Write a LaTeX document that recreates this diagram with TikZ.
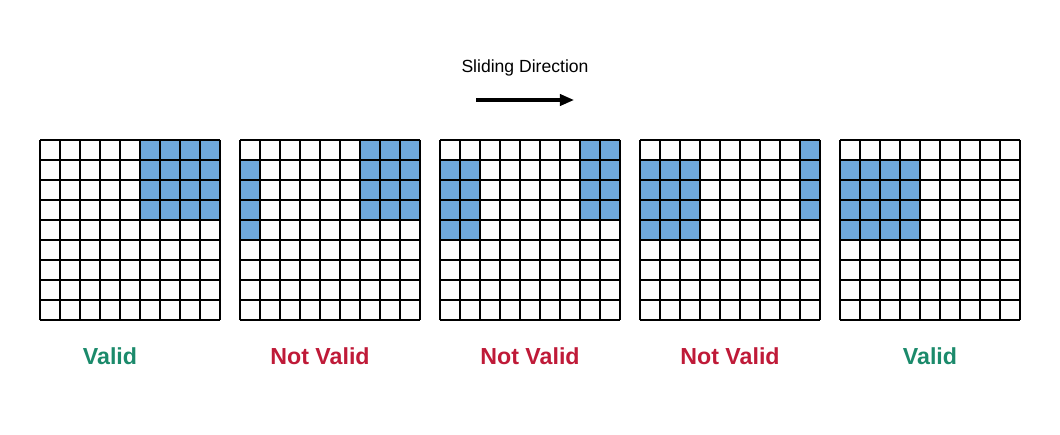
\documentclass[tikz,border=0pt]{standalone}
\usepackage{fontspec}
\setmainfont{Liberation Sans}
\usetikzlibrary{arrows.meta}
\definecolor{cellblue}{HTML}{6FA8DC}
\definecolor{okgreen}{HTML}{1B8A6B}
\definecolor{badred}{HTML}{BF1A38}
\tikzset{
  gridline/.style={line width=1.6pt, step=0.5cm},
  cellfill/.style={fill=cellblue},
  verdict/.style={font=\fontsize{16.5}{20}\selectfont\bfseries},
}
\begin{document}
\begin{tikzpicture}[x=0.5cm, y=-0.5cm]
  \useasboundingbox (0,0) rectangle (53,21.7);
  % Blue cells
  \fill[cellfill] (7,7) rectangle (11,11);
  \fill[cellfill] (12,8) rectangle (13,12);
  \fill[cellfill] (18,7) rectangle (21,11);
  \fill[cellfill] (22,8) rectangle (24,12);
  \fill[cellfill] (29,7) rectangle (31,11);
  \fill[cellfill] (32,8) rectangle (35,12);
  \fill[cellfill] (40,7) rectangle (41,11);
  \fill[cellfill] (42,8) rectangle (46,12);
  % Grids
  \foreach \k in {0,...,4}
    \draw[gridline] (2+10*\k,7) grid (11+10*\k,16);
  % Header
  \node (title) at (26.25,3.4) {\fontsize{12.5}{15}\selectfont Sliding Direction};
  \coordinate (start) at (23.8,5);
  \coordinate (end) at (28.7,5);
  \draw[-{Triangle[length=10pt,width=8pt]}, line width=2.2pt] (start) -- (end);
  % Labels
  \node (v1) [verdict, text=okgreen] at (5.5,17.8) {Valid};
  \node (n2) [verdict, text=badred] at (16,17.8) {Not Valid};
  \node (n3) [verdict, text=badred] at (26.5,17.8) {Not Valid};
  \node (n4) [verdict, text=badred] at (36.5,17.8) {Not Valid};
  \node (v5) [verdict, text=okgreen] at (46.5,17.8) {Valid};
\end{tikzpicture}
\end{document}
